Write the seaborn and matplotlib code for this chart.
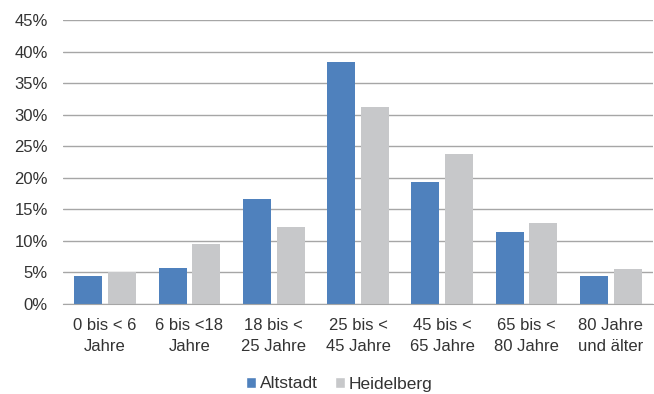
import pandas as pd
import matplotlib.pyplot as plt
import seaborn as sns
from matplotlib.ticker import PercentFormatter
from matplotlib.patches import Patch

sns.set_style("white")
plt.rcParams['font.family'] = ['Liberation Sans', 'DejaVu Sans']

altersgruppen = ["0 bis < 6\nJahre", "6 bis <18\nJahre", "18 bis <\n25 Jahre",
                 "25 bis <\n45 Jahre", "45 bis <\n65 Jahre", "65 bis <\n80 Jahre",
                 "80 Jahre\nund älter"]
altstadt = [4.4, 5.7, 16.6, 38.3, 19.4, 11.4, 4.4]
heidelberg = [5.1, 9.5, 12.2, 31.2, 23.7, 12.9, 5.6]
gebiete = ["Altstadt", "Heidelberg"]
farben = ["#4F81BD", "#C7C8CA"]

df = pd.DataFrame({
    "Altersgruppe": altersgruppen * 2,
    "Anteil": altstadt + heidelberg,
    "Gebiet": [gebiete[0]] * len(altstadt) + [gebiete[1]] * len(heidelberg),
})

fig = plt.figure(figsize=(6.54, 3.94), dpi=100)
ax = fig.add_axes([63 / 654, 1 - 304 / 394, 590 / 654, 284 / 394])

sns.barplot(data=df, x="Altersgruppe", y="Anteil", hue="Gebiet",
            palette=farben, width=0.8, gap=0.17, ax=ax, legend=False,
            saturation=1, edgecolor="none")

ax.set_ylim(0, 45)
ax.set_yticks(range(0, 46, 5))
ax.yaxis.set_major_formatter(PercentFormatter(decimals=0))
ax.grid(axis="y", color="#A6A6A6", lw=1)
ax.set_axisbelow(True)
for s in ["top", "right", "left"]:
    ax.spines[s].set_visible(False)
ax.spines["bottom"].set_color("#A6A6A6")
ax.set_xlim(-0.5, 6.5)
ax.set_xlabel("")
ax.set_ylabel("")
ax.tick_params(axis="y", length=0, pad=11, labelsize=12, labelcolor="#333333")
ax.tick_params(axis="x", length=0, pad=10, labelsize=12, labelcolor="#333333")
for lbl in ax.get_xticklabels():
    lbl.set_linespacing(1.55)

handles = [Patch(facecolor=c, label=g) for c, g in zip(farben, gebiete)]
fig.legend(handles=handles, loc="center", bbox_to_anchor=(339 / 654, 1 - 384 / 394),
           ncol=2, frameon=False, fontsize=12.5, handlelength=0.6, handleheight=0.6,
           handletextpad=0.2, columnspacing=1.0, labelcolor="#333333")

fig.savefig("out.png", dpi=100)
